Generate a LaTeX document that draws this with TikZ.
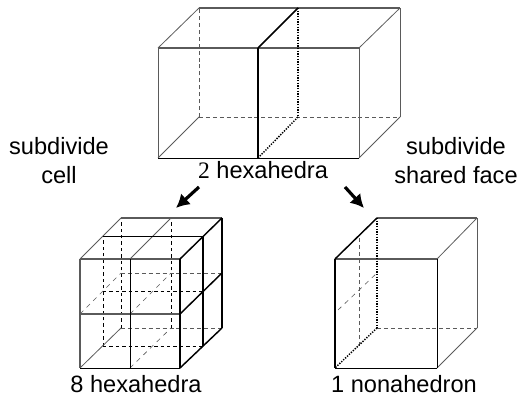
\documentclass[tikz,border=0pt]{standalone}
\usepackage{fontspec}
\setmainfont{Liberation Sans}
\newfontfamily\digitfont{Liberation Serif}
\usetikzlibrary{arrows.meta}
\definecolor{edgegray}{RGB}{90,90,90}

\begin{document}
\begin{tikzpicture}[x=0.75pt,y=-0.75pt,
    edge/.style={edgegray, line width=0.6pt},
    rim/.style={edgegray, line width=0.9pt},
    hid/.style={edgegray, line width=0.6pt, dash pattern=on 3pt off 2.2pt},
    hidk/.style={black, line width=0.45pt, dash pattern=on 2.6pt off 2.2pt},
    hidd/.style={edgegray, line width=0.45pt, dash pattern=on 3.5pt off 3.5pt},
    face/.style={black, line width=1.1pt},
    fdot/.style={black, line width=1.1pt, dash pattern=on 1pt off 1pt},
    thin/.style={black, line width=0.6pt},
    step arrow/.style={-{Latex[length=10pt,width=11pt]}, line width=2.4pt},
    lbl/.style={font=\fontsize{17.7pt}{21.75pt}\selectfont, align=center, inner sep=0pt, anchor=base}]
    \useasboundingbox (0,0) rectangle (519,398);

    % Top: 2 hexahedra
    \coordinate (ta) at (158,158); \coordinate (tb) at (359,158);
    \coordinate (tc) at (359,48);  \coordinate (td) at (158,48);
    \coordinate (te) at (199,117); \coordinate (tf) at (400,117);
    \coordinate (tg) at (400,8);   \coordinate (th) at (199,8);
    \coordinate (tm) at (258,158); \coordinate (tn) at (258,48);
    \coordinate (to) at (298,117); \coordinate (tp) at (298,8);
    \draw[hid] (te) -- (th);
    \draw[hid] (te) -- (tf);
    \draw[edge] (ta) -- (te);
    \draw[edge] (td) -- (th);
    \draw[edge] (tc) -- (tg);
    \draw[edge] (tb) -- (tf);
    \draw[edge] (tf) -- (tg);
    \draw[rim] (th) -- (tg);
    \draw[rim] (td) -- (tc);
    \draw[thin] (ta) -- (tb);
    \draw[edge] (ta) -- (td);
    \draw[edge] (tb) -- (tc);
    % shared face
    \draw[face] (tm) -- (tn);
    \draw[face] (tn) -- (tp);
    \draw[fdot] (tp) -- (to);
    \draw[fdot] (to) -- (tm);

    % Left: 8 hexahedra
    \coordinate (la) at (80,368);  \coordinate (lb) at (180,368);
    \coordinate (lc) at (180,259); \coordinate (ld) at (80,259);
    \coordinate (le) at (121,328); \coordinate (lf) at (222,328);
    \coordinate (lg) at (222,218); \coordinate (lh) at (121,218);
    \coordinate (lma) at (130,368); \coordinate (lmd) at (130,259);
    \coordinate (lme) at (171,328); \coordinate (lmh) at (171,218);
    \coordinate (lna) at (80,314);  \coordinate (lnb) at (180,314);
    \coordinate (lne) at (121,273); \coordinate (lnf) at (222,273);
    \coordinate (lpa) at (103,346); \coordinate (lpb) at (203,346);
    \coordinate (lpc) at (203,236); \coordinate (lpd) at (103,236);
    \coordinate (lqa) at (103,291); \coordinate (lqb) at (203,291);
    \coordinate (lr) at (130,314);  \coordinate (ls) at (171,273);
    \foreach \a/\b in {le/lh,lme/lmh,lpa/lpd,lpa/lpb,lqa/lqb}
      \draw[hidk] (\a) -- (\b);
    \foreach \a/\b in {le/lf,lne/lnf}
      \draw[hid] (\a) -- (\b);
    \foreach \a/\b in {lna/lne,lr/ls,lma/lme}
      \draw[hidd] (\a) -- (\b);
    \draw[edge] (la) -- (le);
    \draw[edge] (ld) -- (lh);
    \draw[edge] (lmd) -- (lmh);
    \draw[rim] (lh) -- (lg);
    \draw[thin] (lpd) -- (lpc);
    \draw[rim] (ld) -- (lc);
    \draw[rim] (lna) -- (lnb);
    \draw[rim] (ld) -- (la);
    \draw[thin] (la) -- (lb);
    \draw[thin] (lma) -- (lmd);
    \draw[face] (lb) -- (lc);
    \draw[face] (lc) -- (lg);
    \draw[face] (lg) -- (lf);
    \draw[face] (lf) -- (lb);
    \draw[face] (lnb) -- (lnf);
    \draw[face] (lpb) -- (lpc);

    % Right: 1 nonahedron
    \coordinate (ra) at (335,368); \coordinate (rb) at (437,368);
    \coordinate (rc) at (437,259); \coordinate (rd) at (335,259);
    \coordinate (re) at (377,328); \coordinate (rf) at (477,328);
    \coordinate (rg) at (477,218); \coordinate (rh) at (377,218);
    \coordinate (ri) at (359,346); \coordinate (rj) at (359,236);
    \coordinate (rk) at (338,310); \coordinate (rl) at (377,273);
    \draw[hid] (ri) -- (rj);
    \draw[hidd] (rk) -- (rl);
    \draw[hid] (re) -- (rf);
    \draw[rim] (rh) -- (rg);
    \draw[edge] (rg) -- (rf);
    \draw[edge] (rc) -- (rg);
    \draw[edge] (rb) -- (rf);
    \draw[rim] (rd) -- (rc);
    \draw[thin] (ra) -- (rb);
    \draw[thin] (rb) -- (rc);
    \draw[face] (ra) -- (rd);
    \draw[face] (rd) -- (rh);
    \draw[fdot] (rh) -- (re);
    \draw[fdot] (re) -- (ra);

    % Arrows
    \coordinate (al) at (199,187); \coordinate (ar) at (345,187);
    \coordinate (bl) at (176,208); \coordinate (br) at (364,208);
    \draw[step arrow] (al) -- (bl);
    \draw[step arrow] (ar) -- (br);

    % Labels
    \node[lbl] (two) at (263,179) {{\digitfont 2} hexahedra};
    \node[lbl] (eight) at (136,393) {8 hexahedra};
    \node[lbl] (one) at (404,393) {1 nonahedron};
    \node[lbl] (cell) at (59,184) {subdivide\\cell};
    \node[lbl] (shared) at (456,184) {subdivide\\shared face};
\end{tikzpicture}
\end{document}
